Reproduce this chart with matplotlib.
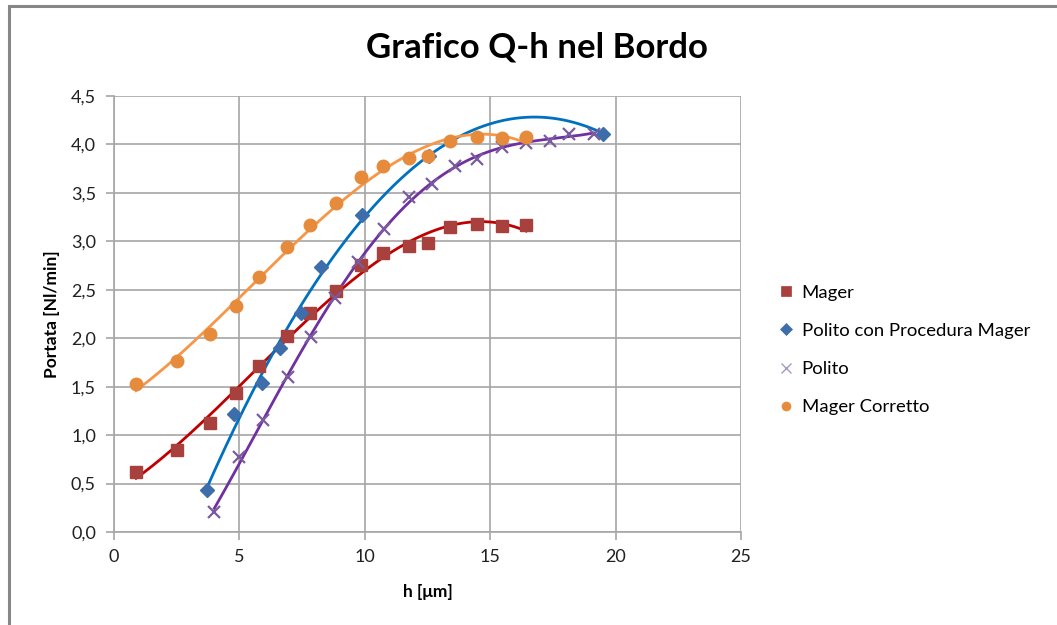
import matplotlib.pyplot as plt
import numpy as np
from matplotlib.patches import Rectangle
from matplotlib.ticker import FuncFormatter, MultipleLocator

plt.rcParams["font.family"] = ["Lato", "DejaVu Sans"]

# Mager / Mager Corretto share the same h values
h_mager = [0.88, 2.5, 3.83, 4.86, 5.8, 6.9, 7.81, 8.84, 9.86, 10.74, 11.77, 12.53, 13.4, 14.46, 15.46, 16.43]
q_mager = [0.62, 0.85, 1.13, 1.43, 1.71, 2.02, 2.26, 2.49, 2.76, 2.88, 2.95, 2.98, 3.15, 3.18, 3.16, 3.17]
q_corretto = [1.53, 1.76, 2.04, 2.33, 2.63, 2.94, 3.17, 3.40, 3.66, 3.78, 3.86, 3.88, 4.04, 4.08, 4.07, 4.08]

h_polito_pm = [3.7, 4.8, 5.9, 6.6, 7.46, 8.25, 9.88, 12.55, 19.5]
q_polito_pm = [0.43, 1.22, 1.54, 1.90, 2.26, 2.73, 3.27, 3.88, 4.11]

h_polito = [4.0, 5.0, 5.95, 6.92, 7.85, 8.82, 9.74, 10.78, 11.77, 12.68, 13.6, 14.47, 15.46, 16.43, 17.4, 18.16, 19.12]
q_polito = [0.21, 0.77, 1.16, 1.60, 2.01, 2.42, 2.79, 3.13, 3.46, 3.59, 3.78, 3.85, 3.97, 4.02, 4.04, 4.11, 4.11]

fig = plt.figure(figsize=(10.57, 6.25), dpi=100)
ax = fig.add_axes([114 / 1057, 1 - 532 / 625, 627 / 1057, 436 / 625])

# outer chart frame (cut off at right and bottom)
fig.patches.append(Rectangle((9 / 1057, -0.5), 3.0, 1 - 6 / 625 + 0.5,
                             transform=fig.transFigure, fill=False,
                             edgecolor="#878787", linewidth=2.2))


def poly_trend(x, y, deg):
    c = np.polyfit(x, y, deg)
    xs = np.linspace(min(x), max(x), 300)
    return xs, np.polyval(c, xs)


series = [
    (h_mager, q_mager, 3, "#C00000", "s", "#A8403D", "Mager", 9),
    (h_polito_pm, q_polito_pm, 2, "#0070C0", "D", "#3D6DAA", "Polito con Procedura Mager", 7),
    (h_polito, q_polito, 4, "#7030A0", "x", "#7A5C9E", "Polito", 8),
    (h_mager, q_corretto, 3, "#F79646", "o", "#E68B3C", "Mager Corretto", 9),
]

handles = []
for x, y, deg, lc, m, mc, lab, ms in series:
    xs, ys = poly_trend(x, y, deg)
    ax.plot(xs, ys, color=lc, linewidth=2.0, zorder=3)
    if m == "x":
        ax.plot(x, y, linestyle="none", marker="x", markersize=ms,
                markeredgecolor=mc, markeredgewidth=1.6, zorder=4)
    else:
        ax.plot(x, y, linestyle="none", marker=m, markersize=ms,
                markerfacecolor=mc, markeredgecolor=mc, zorder=4)
    h, = ax.plot([], [], linestyle="none", marker=m, markersize=6.5,
                 markerfacecolor=mc, markeredgecolor=mc if m != "x" else "#A898C0",
                 markeredgewidth=1.0 if m == "x" else 0.5, label=lab)
    handles.append(h)

ax.set_xlim(0, 25)
ax.set_ylim(0, 4.5)
ax.xaxis.set_major_locator(MultipleLocator(5))
ax.yaxis.set_major_locator(MultipleLocator(0.5))
ax.yaxis.set_major_formatter(FuncFormatter(lambda v, p: f"{v:.1f}".replace(".", ",")))
ax.grid(True, color="#A6A6A6", linewidth=1.2)
ax.set_axisbelow(True)
for s in ["top", "right"]:
    ax.spines[s].set_visible(False)
for s in ["left", "bottom"]:
    ax.spines[s].set_color("#A6A6A6")
    ax.spines[s].set_linewidth(1.2)
ax.tick_params(length=6, width=1.2, color="#A6A6A6", labelsize=13,
               labelcolor="#202020")
ax.tick_params(axis="y", pad=7)
ax.tick_params(axis="x", pad=6)

ax.set_xlabel("h [μm]", fontsize=12.5, fontweight="bold", labelpad=14)
ax.set_ylabel("Portata [Nl/min]", fontsize=12.5, fontweight="bold", labelpad=8)

fig.text(537 / 1057, 1 - 47 / 625, "Grafico Q-h nel Bordo", fontsize=25,
         fontweight="bold", ha="center", va="center")

fig.legend(handles=handles, loc="center left",
           bbox_to_anchor=(762 / 1057, 1 - 350 / 625), frameon=False,
           fontsize=13.3, handlelength=0.8, handletextpad=0.45, labelspacing=1.2)

fig.savefig("out.png", dpi=100)
